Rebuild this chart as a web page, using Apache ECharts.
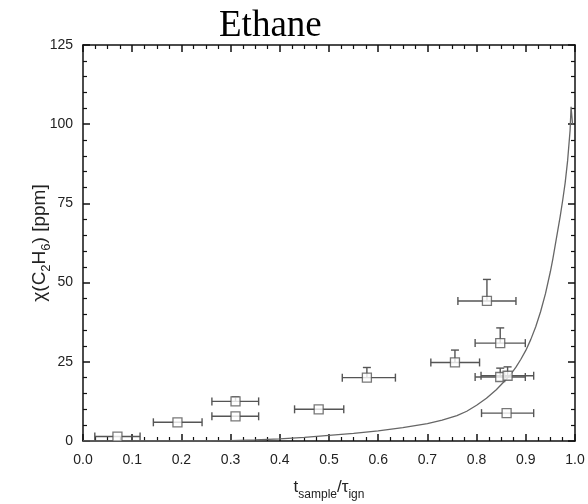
<!DOCTYPE html>
<html><head><meta charset="utf-8">
<script src="https://cdn.jsdelivr.net/npm/echarts@6/dist/echarts.min.js"></script>
<style>html,body{margin:0;padding:0;background:#fff}#c{width:588px;height:504px}</style>
</head><body><div id="c"></div>
<script>
const xTicks = [0.0,0.1,0.2,0.3,0.4,0.5,0.6,0.7,0.8,0.9,1.0];
const yTicks = [0,25,50,75,100,125];
const ptX  = [0.070, 0.192, 0.310, 0.310, 0.479, 0.577, 0.756, 0.821, 0.848, 0.848, 0.863, 0.861];
const ptY  = [1.4,   5.9,   12.5,  7.8,   10.0,  20.0,  24.8,  44.2,  30.9,  20.2,  20.6,  8.8];
const xLo  = [0.024, 0.143, 0.262, 0.262, 0.430, 0.527, 0.707, 0.762, 0.797, 0.797, 0.809, 0.810];
const xHi  = [0.116, 0.242, 0.357, 0.357, 0.530, 0.635, 0.806, 0.880, 0.899, 0.899, 0.916, 0.916];
const yHi  = [1.4,   5.9,   13.9,  7.8,   10.0,  23.2,  28.7,  51.0,  35.7,  23.0,  23.4,  8.8];
const curveX = [0.0, 0.25, 0.30, 0.35, 0.40, 0.45, 0.50, 0.55, 0.60, 0.65, 0.70, 0.73, 0.76, 0.78, 0.80, 0.82, 0.84, 0.86, 0.87, 0.88, 0.89, 0.90, 0.91, 0.92, 0.93, 0.94, 0.95, 0.955, 0.96, 0.965, 0.97, 0.975, 0.98, 0.985, 0.99, 0.992, 0.995];
const curveY = [0.0, 0.0,  0.1,  0.35, 0.7,  1.15, 1.8,  2.4,  3.2,  4.2,  5.5,  6.6,  8.0,  9.4,  11.3, 13.5, 16.2, 19.4, 21.2, 23.3, 25.8, 28.6, 32.0, 36.0, 40.8, 46.5, 53.5, 57.5, 62.0, 66.5, 71.0, 76.0, 81.5, 88.5, 98.0, 105.5, 100.0];

const chart = echarts.init(document.getElementById('c'), null, {renderer:'canvas'});
const pts = ptX.map((x,i)=>[x, ptY[i], xLo[i], xHi[i], yHi[i]]);
const curve = curveX.map((x,i)=>[x, curveY[i]]);
const axCol = '#111';
const SANS = 'Liberation Sans, Arial, sans-serif';
const lblFont = {fontFamily:SANS, fontSize:14, color:'#222'};
const common = {
  axisLine:{show:true, onZero:false, lineStyle:{color:axCol, width:1.5}},
  splitLine:{show:false}
};
chart.setOption({
  animation:false,
  title:{text:'Ethane', left:214, top:3, textStyle:{fontFamily:'Liberation Serif, Times New Roman, serif', fontSize:37, fontWeight:'normal', color:'#000'}},
  grid:{left:83, right:13, top:45, bottom:63, containLabel:false, outerBoundsMode:'none'},
  xAxis:[{
    type:'value', min:0, max:1, interval:0.1, position:'bottom', ...common,
    axisTick:{show:true, inside:true, length:7, lineStyle:{color:axCol, width:1.5}},
    minorTick:{show:true, splitNumber:4, length:4, lineStyle:{color:axCol, width:1.2}},
    axisLabel:{...lblFont, margin:12, formatter:v=>v.toFixed(1)},
    name:'{a|t}{s|sample}{a|/τ}{s|ign}', nameLocation:'middle', nameGap:33, nameMoveOverlap:false,
    nameTextStyle:{rich:{
      a:{fontFamily:SANS, fontSize:17, color:'#222'},
      s:{fontFamily:SANS, fontSize:12, color:'#222', padding:[15,0,0,0]}
    }}
  },{
    type:'value', min:0, max:1, interval:0.1, position:'top', ...common,
    axisTick:{show:true, inside:true, length:7, lineStyle:{color:axCol, width:1.5}},
    minorTick:{show:true, splitNumber:4, length:4, lineStyle:{color:axCol, width:1.2}},
    axisLabel:{show:false}
  }],
  yAxis:[{
    type:'value', min:0, max:125, interval:25, position:'left', ...common,
    axisTick:{show:true, inside:true, length:7, lineStyle:{color:axCol, width:1.5}},
    minorTick:{show:true, splitNumber:5, length:4, lineStyle:{color:axCol, width:1.2}},
    axisLabel:{...lblFont, margin:10},
    name:'{a|χ(C}{s|2}{a|H}{s|6}{a|) [ppm]}', nameLocation:'middle', nameGap:30, nameRotate:90, nameMoveOverlap:false,
    nameTextStyle:{rich:{
      a:{fontFamily:SANS, fontSize:19, color:'#222'},
      s:{fontFamily:SANS, fontSize:13, color:'#222', padding:[14,0,0,0]}
    }}
  },{
    type:'value', min:0, max:125, interval:25, position:'right', ...common,
    axisTick:{show:true, inside:true, length:7, lineStyle:{color:axCol, width:1.5}},
    minorTick:{show:true, splitNumber:5, length:4, lineStyle:{color:axCol, width:1.2}},
    axisLabel:{show:false}
  }],
  series:[
    {type:'line', data:curve, showSymbol:false, symbol:'none', smooth:false,
     lineStyle:{color:'#666', width:1.3}, z:2, xAxisIndex:0, yAxisIndex:0},
    {type:'custom', data:pts, z:3, xAxisIndex:0, yAxisIndex:0,
     renderItem:function(params, api){
       const x=api.value(0), y=api.value(1), xl=api.value(2), xh=api.value(3), yh=api.value(4);
       const lo=api.coord([xl,y]), hi=api.coord([xh,y]), c=api.coord([x,y]), t=api.coord([x,yh]);
       const st={stroke:'#555', lineWidth:1.4};
       const ch=[
         {type:'line', shape:{x1:lo[0],y1:lo[1],x2:hi[0],y2:hi[1]}, style:st},
         {type:'line', shape:{x1:lo[0],y1:lo[1]-4,x2:lo[0],y2:lo[1]+4}, style:st},
         {type:'line', shape:{x1:hi[0],y1:hi[1]-4,x2:hi[0],y2:hi[1]+4}, style:st}
       ];
       if (yh>y+0.01){
         ch.push({type:'line', shape:{x1:c[0],y1:c[1],x2:t[0],y2:t[1]}, style:st});
         ch.push({type:'line', shape:{x1:t[0]-4,y1:t[1],x2:t[0]+4,y2:t[1]}, style:st});
       }
       return {type:'group', children:ch};
     }},
    {type:'scatter', data:pts.map(p=>[p[0],p[1]]), symbol:'rect', symbolSize:9, z:4,
     itemStyle:{color:'#fff', borderColor:'#555', borderWidth:1.3}, xAxisIndex:0, yAxisIndex:0}
  ]
});
</script></body></html>
